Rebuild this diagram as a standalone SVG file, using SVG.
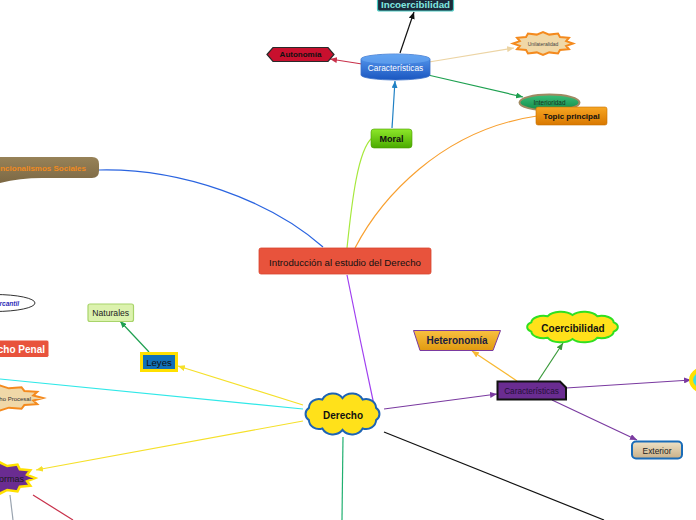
<svg xmlns="http://www.w3.org/2000/svg" xmlns:xlink="http://www.w3.org/1999/xlink" width="696" height="520" viewBox="0 0 696 520">
<style>
text{font-family:"Liberation Sans",Arial,sans-serif;text-anchor:middle;dominant-baseline:central;}
.b{font-weight:bold;}
.c{fill:none;stroke-width:1.2;}
.vs{vector-effect:non-scaling-stroke;}
</style>
<defs>
<path id="star" class="vs" d="M1,0 L.773,.207 L.866,.5 L.566,.566 L.5,.866 L.207,.773 L0,1 L-.207,.773 L-.5,.866 L-.566,.566 L-.866,.5 L-.773,.207 L-1,0 L-.773,-.207 L-.866,-.5 L-.566,-.566 L-.5,-.866 L-.207,-.773 L0,-1 L.207,-.773 L.5,-.866 L.566,-.566 L.866,-.5 L.773,-.207 Z"/>
<path id="cloud" class="vs" d="M-40,-8 A12,12 0 0 1 -24,-19 A14,14 0 0 1 0,-21 A14,14 0 0 1 24,-19 A12,12 0 0 1 40,-8 A10,10 0 0 1 40,8 A12,12 0 0 1 24,19 A14,14 0 0 1 0,21 A14,14 0 0 1 -24,19 A12,12 0 0 1 -40,8 A10,10 0 0 1 -40,-8 Z"/>
<linearGradient id="gBlue" x1="0" y1="0" x2="0" y2="1"><stop offset="0" stop-color="#5a9cf0"/><stop offset="1" stop-color="#1a56c0"/></linearGradient>
<linearGradient id="gGreen" x1="0" y1="0" x2="0" y2="1"><stop offset="0" stop-color="#8ee82a"/><stop offset="1" stop-color="#4aaa00"/></linearGradient>
<linearGradient id="gOrange" x1="0" y1="0" x2="0" y2="1"><stop offset="0" stop-color="#f7a623"/><stop offset="1" stop-color="#d97800"/></linearGradient>
<linearGradient id="gHet" x1="0" y1="0" x2="0" y2="1"><stop offset="0" stop-color="#f8c040"/><stop offset="1" stop-color="#e09a10"/></linearGradient>
<linearGradient id="gInt" x1="0" y1="0" x2="0" y2="1"><stop offset="0" stop-color="#3cc07a"/><stop offset="1" stop-color="#128a48"/></linearGradient>
<linearGradient id="gTan" x1="0" y1="0" x2="0" y2="1"><stop offset="0" stop-color="#efe2c6"/><stop offset="1" stop-color="#c9b088"/></linearGradient>
<linearGradient id="gBrown" x1="0" y1="0" x2="0" y2="1"><stop offset="0" stop-color="#978258"/><stop offset="1" stop-color="#7c6844"/></linearGradient>
<marker id="mBlack" markerUnits="userSpaceOnUse" markerWidth="7" markerHeight="6" refX="7" refY="3" orient="auto"><path d="M0,0 L7,3 L0,6 Z" fill="#111"/></marker>
<marker id="mRed" markerUnits="userSpaceOnUse" markerWidth="7" markerHeight="6" refX="7" refY="3" orient="auto"><path d="M0,0 L7,3 L0,6 Z" fill="#c8304a"/></marker>
<marker id="mTan" markerUnits="userSpaceOnUse" markerWidth="7" markerHeight="6" refX="7" refY="3" orient="auto"><path d="M0,0 L7,3 L0,6 Z" fill="#ecd4a4"/></marker>
<marker id="mGreen" markerUnits="userSpaceOnUse" markerWidth="7" markerHeight="6" refX="7" refY="3" orient="auto"><path d="M0,0 L7,3 L0,6 Z" fill="#1ea050"/></marker>
<marker id="mBlue" markerUnits="userSpaceOnUse" markerWidth="7" markerHeight="6" refX="7" refY="3" orient="auto"><path d="M0,0 L7,3 L0,6 Z" fill="#1f80c4"/></marker>
<marker id="mYellow" markerUnits="userSpaceOnUse" markerWidth="7" markerHeight="6" refX="7" refY="3" orient="auto"><path d="M0,0 L7,3 L0,6 Z" fill="#f5e02a"/></marker>
<marker id="mOrange" markerUnits="userSpaceOnUse" markerWidth="7" markerHeight="6" refX="7" refY="3" orient="auto"><path d="M0,0 L7,3 L0,6 Z" fill="#f8b830"/></marker>
<marker id="mDGreen" markerUnits="userSpaceOnUse" markerWidth="7" markerHeight="6" refX="7" refY="3" orient="auto"><path d="M0,0 L7,3 L0,6 Z" fill="#3a9a3a"/></marker>
<marker id="mPurple" markerUnits="userSpaceOnUse" markerWidth="7" markerHeight="6" refX="7" refY="3" orient="auto"><path d="M0,0 L7,3 L0,6 Z" fill="#7a3aa0"/></marker>
</defs>
<rect width="696" height="520" fill="#ffffff"/>

<g id="connectors">
<path class="c" d="M400,53 L414,12" stroke="#111" marker-end="url(#mBlack)"/>
<path class="c" d="M362,64 L330,59" stroke="#c8304a" marker-end="url(#mRed)"/>
<path class="c" d="M429,62 L514,48" stroke="#ecd4a4" marker-end="url(#mTan)"/>
<path class="c" d="M428,75 L523,97" stroke="#1ea050" marker-end="url(#mGreen)"/>
<path class="c" d="M392,128 L395,81" stroke="#1f80c4" marker-end="url(#mBlue)"/>
<path class="c" d="M347,248 C352,200 358,150 372,138" stroke="#a6e83c"/>
<path class="c" d="M355,248 C380,200 440,130 537,116" stroke="#f8a030"/>
<path class="c" d="M99,170 C180,168 270,200 323,247" stroke="#2a64e0"/>
<path class="c" d="M347,275 Q360,340 374,405" stroke="#a040f0"/>
<path class="c" d="M303,405 L178,366" stroke="#f5e02a" marker-end="url(#mYellow)"/>
<path class="c" d="M149,352 L120,321" stroke="#1ea050" marker-end="url(#mGreen)"/>
<path class="c" d="M303,409 L0,379" stroke="#30e8e8"/>
<path class="c" d="M303,421 L36,470" stroke="#f5e02a" marker-end="url(#mYellow)"/>
<path class="c" d="M10,495 L13,520" stroke="#9aa4b0"/>
<path class="c" d="M33,495 L73,520" stroke="#c8304a"/>
<path class="c" d="M343,437 L342,520" stroke="#20b070"/>
<path class="c" d="M384,432 L604,520" stroke="#111"/>
<path class="c" d="M384,409 L497,394" stroke="#7a3aa0" marker-end="url(#mPurple)"/>
<path class="c" d="M517,381 L472,351" stroke="#f8b830" marker-end="url(#mOrange)"/>
<path class="c" d="M538,381 L563,343" stroke="#3a9a3a" marker-end="url(#mDGreen)"/>
<path class="c" d="M566,388 L691,380" stroke="#7a3aa0" marker-end="url(#mPurple)"/>
<path class="c" d="M552,400 L637,440" stroke="#7a3aa0" marker-end="url(#mPurple)"/>
</g>

<g id="incoercibilidad">
<rect x="377.5" y="-4" width="76" height="15" rx="2" fill="#1c2a3a" stroke="#48c8c0" stroke-width="1.2"/>
<text x="415.5" y="4" class="b" font-size="9.8" fill="#80e8e0">Incoercibilidad</text>
</g>

<g id="autonomia">
<polygon points="267,54.5 273,47.5 328,47.5 334,54.5 328,61.5 273,61.5" fill="#c8102e" stroke="#2a2a2a" stroke-width="1.2"/>
<text x="300.5" y="54.5" class="b" font-size="8" fill="#111">Autonomía</text>
</g>

<g id="caracteristicas-top">
<path d="M361,59 A34.5,5 0 0 1 430,59 V75 A34.5,5 0 0 1 361,75 Z" fill="url(#gBlue)" stroke="#3a70c8" stroke-width="0.8"/>
<ellipse cx="395.5" cy="59" rx="34.5" ry="5" fill="#6aaaf4" opacity="0.6"/>
<text x="395.5" y="68" font-size="8.3" fill="#ffffff">Características</text>
</g>

<g id="unilateralidad">
<use xlink:href="#star" transform="translate(543,43.5) scale(30,11.5)" fill="#f0d8a8" stroke="#f48a1e" stroke-width="2"/>
<text x="543" y="43.5" font-size="5" fill="#444">Unilateralidad</text>
</g>

<g id="interioridad">
<ellipse cx="549.5" cy="102.5" rx="30" ry="8" fill="url(#gInt)" stroke="#a08a62" stroke-width="2"/>
<text x="549.5" y="102.5" font-size="6.4" fill="#183020">Interioridad</text>
</g>

<g id="topic-principal">
<rect x="536" y="107" width="71" height="18" rx="2" fill="url(#gOrange)" stroke="#c87000" stroke-width="0.6"/>
<text x="571.5" y="116" class="b" font-size="8" fill="#111">Topic principal</text>
</g>

<g id="moral">
<rect x="371" y="129" width="41" height="19" rx="3" fill="url(#gGreen)" stroke="#4a9a00" stroke-width="0.6"/>
<text x="391.5" y="138.5" class="b" font-size="9" fill="#111">Moral</text>
</g>

<g id="funcionalismos">
<path d="M-60,157 H92 Q99,157 99,164 V171 Q99,178 92,178 H42 Q20,178 0,183 H-60 Z" fill="url(#gBrown)"/>
<text x="86" y="168" class="b" font-size="8" fill="#f08a20" style="text-anchor:end">Funcionalismos Sociales</text>
</g>

<g id="intro">
<rect x="259" y="248" width="172" height="26" rx="2" fill="#e8533c" stroke="#d8442e" stroke-width="0.8"/>
<text x="345" y="262" font-size="9.7" fill="#111">Introducción al estudio del Derecho</text>
</g>

<g id="mercantil">
<ellipse cx="-5" cy="303" rx="40" ry="8.5" fill="#ffffff" stroke="#333" stroke-width="1"/>
<text x="19" y="303" class="b" font-size="6.5" font-style="italic" fill="#2a2ab8" style="text-anchor:end">Derecho Mercantil</text>
</g>

<g id="derecho-penal">
<rect x="-60" y="340" width="109" height="17.5" rx="2" fill="#e8533c" stroke="#ffffff" stroke-width="1"/>
<text x="45" y="349" class="b" font-size="10" fill="#ffffff" style="text-anchor:end">Derecho Penal</text>
</g>

<g id="naturales">
<rect x="88" y="304" width="45.5" height="17.5" rx="2" fill="#dcf2ae" stroke="#a8d46a" stroke-width="1.2"/>
<text x="110.75" y="313" font-size="8.6" fill="#222">Naturales</text>
</g>

<g id="leyes">
<rect x="141.5" y="353.5" width="35" height="17" fill="#1070b8" stroke="#ffe000" stroke-width="3"/>
<text x="159" y="362" font-size="9.6" fill="#111">Leyes</text>
</g>

<g id="derecho-procesal">
<use xlink:href="#star" transform="translate(0,398) scale(43,12.5)" fill="#f0d8a8" stroke="#f48a1e" stroke-width="2"/>
<text x="31" y="399" font-size="6" fill="#333" style="text-anchor:end">Derecho Procesal</text>
</g>

<g id="derecho">
<use xlink:href="#cloud" transform="translate(342.5,414) scale(0.84,0.76)" fill="#ffe11a" stroke="#1e64b4" stroke-width="2"/>
<text x="343" y="415" class="b" font-size="10" fill="#111">Derecho</text>
</g>

<g id="normas">
<use xlink:href="#star" transform="translate(0,478) scale(35,15.5)" fill="#6a2c91" stroke="#ffe000" stroke-width="2.5"/>
<text x="24" y="479" font-size="9" fill="#1a1a1a" style="text-anchor:end">Normas</text>
</g>

<g id="heteronomia">
<polygon points="413.5,330.5 500.5,330.5 493,350.5 420,350.5" fill="url(#gHet)" stroke="#7a3aa0" stroke-width="1"/>
<text x="457" y="340.5" class="b" font-size="10" fill="#1a2040">Heteronomía</text>
</g>

<g id="coercibilidad">
<use xlink:href="#cloud" transform="translate(572.5,327) scale(1.03,0.57)" fill="#ffe11a" stroke="#30e020" stroke-width="2"/>
<text x="573" y="328" class="b" font-size="10" fill="#111">Coercibilidad</text>
</g>

<g id="caracteristicas-bottom">
<path d="M497.5,381.5 H560 L566,387.5 V399.5 H497.5 Z" fill="#6a2c91" stroke="#111" stroke-width="2"/>
<text x="531.5" y="391" font-size="8.2" fill="#24103a">Características</text>
</g>

<g id="exterior">
<rect x="632" y="441.5" width="50" height="17" rx="4" fill="url(#gTan)" stroke="#1a6cb8" stroke-width="2"/>
<text x="657" y="450.5" font-size="8.4" fill="#222">Exterior</text>
</g>

<g id="right-node">
<ellipse cx="718" cy="380" rx="27" ry="15" fill="#40e0e0" stroke="#ffe000" stroke-width="4"/>
</g>
</svg>
